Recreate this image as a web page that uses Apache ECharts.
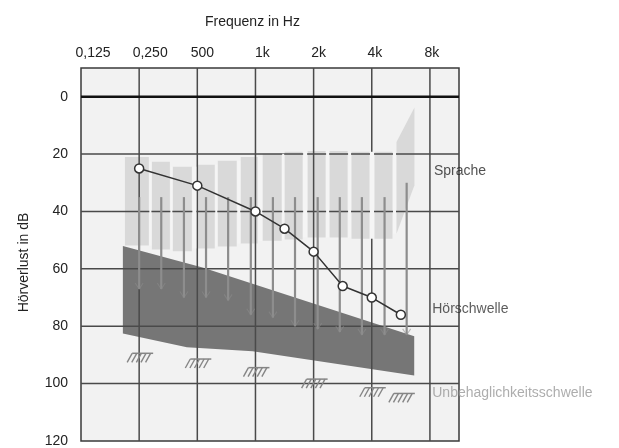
<!DOCTYPE html>
<html>
<head>
<meta charset="utf-8">
<title>Audiogramm</title>
<script src="https://cdn.jsdelivr.net/npm/echarts@6/dist/echarts.min.js"></script>
<style>
  html, body { margin: 0; padding: 0; background: #ffffff; }
  #chart { width: 619px; height: 448px; }
</style>
</head>
<body>
<div id="chart"></div>
<script>
// Frequency axis: one unit per octave, starting at 125 Hz
const freqTickLabels = ['0,125', '0,250', '500', '1k', '2k', '4k', '8k'];

// Measured hearing thresholds (octave position, dB HL)
const thresholdOct = [1, 2, 3, 3.5, 4, 4.5, 5, 5.5];
const thresholdDb = [25, 31, 40, 46, 54, 66, 70, 76];

// Uncomfortable loudness levels
const uclOct = [1, 2, 3, 4, 5, 5.5];
const uclDb = [91, 93, 96, 100, 103, 105];

// Speech area, drawn as vertical stripes
const speechStart = [0.755, 1.219, 1.579, 1.991, 2.352, 2.747, 3.124, 3.502, 3.897, 4.275, 4.652, 5.047];
const speechEnd = [1.167, 1.528, 1.906, 2.300, 2.678, 3.039, 3.451, 3.811, 4.206, 4.584, 4.961, 5.356];
const speechTop = [21.0, 22.7, 24.4, 23.7, 22.3, 21.0, 19.9, 19.2, 18.9, 18.9, 19.2, 19.2];
const speechBottom = [51.9, 53.3, 53.9, 52.9, 52.2, 51.2, 50.2, 49.8, 49.1, 49.1, 49.5, 49.5];
// high-frequency wing of the speech area (outline)
const speechWingOct = [5.425, 5.734, 5.734, 5.425];
const speechWingDb = [15.8, 3.8, 30.9, 47.8];

// Hearing threshold band (upper and lower edge)
const bandTopOct = [0.72, 2.09, 5.73];
const bandTopDb = [52, 59.5, 83.5];
const bandBottomOct = [0.72, 1.82, 2.95, 5.73];
const bandBottomDb = [82.5, 87.3, 88.7, 97.2];

// Vertical level markers across the speech area
const markerOct = [1.00, 1.38, 1.77, 2.15, 2.53, 2.92, 3.30, 3.68, 4.07, 4.45, 4.83, 5.22, 5.60];
const markerFrom = [35, 35, 35, 35, 35, 35, 35, 35, 35, 35, 35, 35, 30];
const markerTo = [67, 67, 70, 70, 71, 76, 77, 80, 81, 82, 83, 83, 83];

// Grid lines
const gridOct = [1, 2, 3, 4, 5, 6];
const gridDb = [0, 20, 40, 60, 80, 100];

// Area captions
const areaNames = ['Sprache', 'Hörschwelle', 'Unbehaglichkeitsschwelle'];
const areaOct = [6.07, 6.04, 6.04];
const areaDb = [26, 74.2, 103.4];

// ---- layout / styling ----
const FONT = "'Liberation Sans', Arial, Helvetica, sans-serif";
const freqLabelShift = [12, 11, 5, 7, 5, 3, 2];
const areaColors = ['#262626', '#333333', '#999999'];
const X_MIN = 0, X_MAX = 6.5, Y_MIN = -10, Y_MAX = 120;

const rich = {};
freqLabelShift.forEach((d, i) => {
  rich['s' + i] = { padding: [0, 0, 0, 2 * d], fontSize: 14, color: '#222', fontFamily: FONT };
});

const chart = echarts.init(document.getElementById('chart'), null, { renderer: 'canvas' });

const option = {
  animation: false,
  backgroundColor: '#ffffff',
  title: {
    text: 'Frequenz in Hz',
    left: 205, top: 15, padding: 0,
    textStyle: { fontSize: 14, fontWeight: 'normal', color: '#222', fontFamily: FONT }
  },
  grid: {
    left: 81, right: 160, top: 68, bottom: 1,
    show: true, backgroundColor: '#f2f2f2', borderColor: '#3a3a3a', borderWidth: 1.5
  },
  xAxis: {
    type: 'value', position: 'top', min: X_MIN, max: X_MAX, interval: 1,
    axisLine: { show: false }, axisTick: { show: false }, splitLine: { show: false },
    axisLabel: {
      margin: 8, fontSize: 14, color: '#222', fontFamily: FONT, rich: rich,
      formatter: v => (Number.isInteger(v) && v < freqTickLabels.length) ? '{s' + v + '|' + freqTickLabels[v] + '}' : ''
    }
  },
  yAxis: {
    type: 'value', inverse: true, min: Y_MIN, max: Y_MAX, interval: 10,
    axisLine: { show: false }, axisTick: { show: false }, splitLine: { show: false },
    axisLabel: {
      margin: 13, fontSize: 14, color: '#222', fontFamily: FONT,
      formatter: v => (v >= 0 && v % 20 === 0) ? String(v) : ''
    },
    name: 'Hörverlust in dB', nameLocation: 'middle', nameRotate: 90, nameGap: 50,
    nameTextStyle: { fontSize: 14, color: '#222', fontFamily: FONT, padding: [0, 16, 0, 0] }
  },
  series: [
    // hearing threshold band
    {
      type: 'custom', z: 2, silent: true, data: [[0, 0]],
      renderItem: (params, api) => {
        const pts = [];
        bandTopOct.forEach((x, i) => pts.push(api.coord([x, bandTopDb[i]])));
        for (let i = bandBottomOct.length - 1; i >= 0; i--) pts.push(api.coord([bandBottomOct[i], bandBottomDb[i]]));
        return { type: 'polygon', shape: { points: pts }, style: { fill: '#767676' } };
      }
    },
    // speech area stripes
    {
      type: 'custom', z: 3, silent: true,
      data: speechStart.map((s, i) => [s, speechEnd[i], speechTop[i], speechBottom[i]]),
      encode: { x: [0, 1], y: [2, 3] },
      renderItem: (params, api) => {
        const p0 = api.coord([api.value(0), api.value(2)]);
        const p1 = api.coord([api.value(1), api.value(3)]);
        return { type: 'rect', shape: { x: p0[0], y: p0[1], width: p1[0] - p0[0], height: p1[1] - p0[1] }, style: { fill: '#d9d9d9' } };
      }
    },
    // speech area wing
    {
      type: 'custom', z: 3, silent: true, data: [[0, 0]],
      renderItem: (params, api) => ({
        type: 'polygon',
        shape: { points: speechWingOct.map((x, i) => api.coord([x, speechWingDb[i]])) },
        style: { fill: '#d9d9d9' }
      })
    },
    // vertical grid lines
    {
      type: 'custom', z: 4, silent: true, data: gridOct.map(x => [x, 0]),
      renderItem: (params, api) => {
        const a = api.coord([api.value(0), Y_MIN]);
        const b = api.coord([api.value(0), Y_MAX]);
        return { type: 'line', shape: { x1: a[0], y1: a[1], x2: b[0], y2: b[1] }, style: { stroke: '#4a4a4a', lineWidth: 1.5 } };
      }
    },
    // horizontal grid lines
    {
      type: 'custom', z: 4, silent: true, data: gridDb.map(y => [0, y]),
      renderItem: (params, api) => {
        const y = api.value(1);
        const a = api.coord([X_MIN, y]);
        const b = api.coord([X_MAX, y]);
        return { type: 'line', shape: { x1: a[0], y1: a[1], x2: b[0], y2: b[1] },
          style: { stroke: y === 0 ? '#111' : '#4a4a4a', lineWidth: y === 0 ? 2.5 : 1.5 } };
      }
    },
    // light gaps between speech stripes
    {
      type: 'custom', z: 5, silent: true,
      data: speechStart.map((s, i) => [i, 0]),
      renderItem: (params, api) => {
        const i = params.dataIndex;
        let x0 = speechEnd[i], x1, top, bottom;
        if (i < speechStart.length - 1) {
          x1 = speechStart[i + 1];
          top = Math.max(speechTop[i], speechTop[i + 1]);
          bottom = Math.min(speechBottom[i], speechBottom[i + 1]);
        } else {
          x1 = speechWingOct[0];
          top = Math.max(speechTop[i], speechWingDb[0]);
          bottom = Math.min(speechBottom[i], speechWingDb[3]);
        }
        const p0 = api.coord([x0, top]);
        const p1 = api.coord([x1, bottom]);
        return { type: 'rect', shape: { x: p0[0] + 0.5, y: p0[1], width: p1[0] - p0[0] - 1, height: p1[1] - p0[1] }, style: { fill: '#f5f5f5' } };
      }
    },
    // level markers with small arrow heads
    {
      type: 'custom', z: 6, silent: true,
      data: markerOct.map((x, i) => [x, markerFrom[i], markerTo[i]]),
      encode: { x: 0, y: [1, 2] },
      renderItem: (params, api) => {
        const a = api.coord([api.value(0), api.value(1)]);
        const b = api.coord([api.value(0), api.value(2)]);
        return {
          type: 'group',
          children: [
            { type: 'line', shape: { x1: a[0], y1: a[1], x2: b[0], y2: b[1] }, style: { stroke: '#8d8d8d', lineWidth: 2.2 } },
            { type: 'polyline', shape: { points: [[b[0] - 4, b[1] - 6], [b[0], b[1]], [b[0] + 4, b[1] - 6]] }, style: { stroke: '#8d8d8d', lineWidth: 1.1, fill: null, opacity: 0.55 } }
          ]
        };
      }
    },
    // uncomfortable loudness symbols
    {
      type: 'custom', z: 6, silent: true,
      data: uclOct.map((x, i) => [x, uclDb[i]]),
      renderItem: (params, api) => {
        const c = api.coord([api.value(0), api.value(1)]);
        const cx = c[0] + 2, cy = c[1];
        const kids = [{ type: 'line', shape: { x1: cx - 9, y1: cy - 4.5, x2: cx + 12, y2: cy - 4.5 }, style: { stroke: '#858585', lineWidth: 1.5 } }];
        for (let k = 0; k < 5; k++) {
          const bx = cx - 14 + k * 4.6;
          kids.push({ type: 'line', shape: { x1: bx, y1: cy + 4.5, x2: bx + 5, y2: cy - 4.5 }, style: { stroke: '#858585', lineWidth: 1.4 } });
        }
        return { type: 'group', children: kids };
      }
    },
    // audiogram curve
    {
      type: 'line', z: 8, name: 'Hörschwelle',
      data: thresholdOct.map((x, i) => [x, thresholdDb[i]]),
      lineStyle: { color: '#333', width: 1.5 },
      symbol: 'circle', symbolSize: 9,
      itemStyle: { color: '#ffffff', borderColor: '#333', borderWidth: 1.5 }
    },
    // area captions
    {
      type: 'scatter', z: 9, silent: true, symbolSize: 0,
      data: areaNames.map((n, i) => ({
        value: [areaOct[i], areaDb[i], n],
        label: { color: areaColors[i] }
      })),
      label: {
        show: true, position: 'right', distance: 0, fontSize: 14, fontFamily: FONT,
        formatter: p => p.value[2]
      }
    }
  ]
};

chart.setOption(option);
</script>
</body>
</html>
